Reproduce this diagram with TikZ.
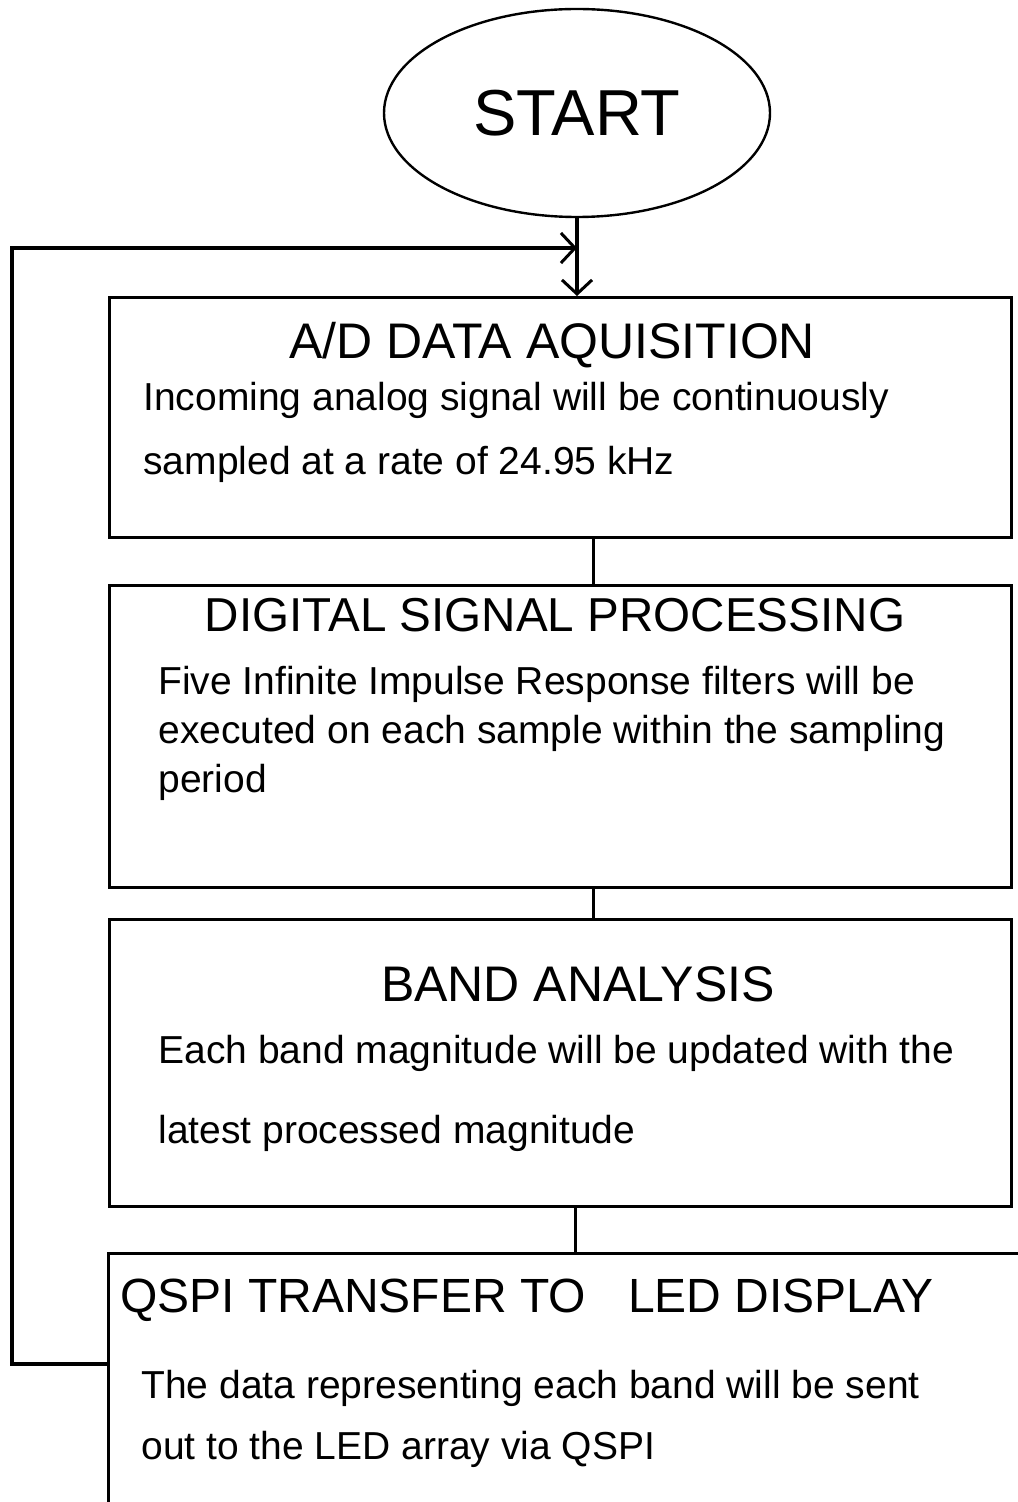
\documentclass[tikz,border=0pt]{standalone}
\usepackage{fontspec}
\setmainfont{Liberation Sans}
\usetikzlibrary{arrows.meta,shapes.geometric,positioning}

\tikzset{
	stage/.style = {draw, line width=1.6pt, anchor=north west, inner sep=0pt},
	heading/.style = {font=\fontsize{25}{30}\selectfont, inner sep=0pt},
	detail/.style = {align=left, anchor=west, inner sep=0pt},
	flow/.style = {line width=1.6pt},
	tip/.style = {-{Straight Barb[length=7pt,width=15pt,line width=1.5pt]}}
}

\begin{document}
\begin{tikzpicture}[x=0.5pt, y=-0.5pt]
	\useasboundingbox (0,0) rectangle (1017,1502);
	\node[draw, ellipse, line width=1.2pt, minimum width=193pt, minimum height=104pt, inner sep=0pt,
		font=\fontsize{32.5}{36}\selectfont] (start) at (577,113) {START};

	\node[stage, minimum width=451pt, minimum height=120pt] (acq) at (108,296) {};
	\node[stage, minimum width=451pt, minimum height=151pt] (dsp) at (108,584) {};
	\node[stage, minimum width=451pt, minimum height=143.5pt] (band) at (108,918) {};
	\node[stage, minimum width=500pt, minimum height=200pt] (qspi) at (107,1252) {};

	\node[heading] (acqtitle) at (552,345) {A/D DATA AQUISITION};
	\node[detail, font=\fontsize{19.5}{32}\selectfont] (acqtext) at (143,432)
		{Incoming analog signal will be continuously\\sampled at a rate of 24.95 kHz};
	\node[heading, font=\fontsize{23.8}{30}\selectfont] (dsptitle) at (555,615) {DIGITAL SIGNAL PROCESSING};
	\node[detail, font=\fontsize{19.5}{24.5}\selectfont] (dsptext) at (158,733)
		{Five Infinite Impulse Response filters will be\\executed on each sample within the sampling\\period};
	\node[heading] (bandtitle) at (578,984) {BAND ANALYSIS};
	\node[detail, font=\fontsize{19.5}{40}\selectfont] (bandtext) at (158,1093)
		{Each band magnitude will be updated with the\\latest processed magnitude};
	\node[heading, font=\fontsize{24}{30}\selectfont] (qspititle) at (527,1300) {QSPI TRANSFER TO\hspace{0.6em} LED DISPLAY};
	\node[detail, font=\fontsize{19.5}{30.5}\selectfont] (qspitext) at (141,1419)
		{The data representing each band will be sent\\out to the LED array via QSPI};

	% connectors
	\draw[flow, tip] (start.south) -- (start.south |- acq.north);
	\draw[flow] ([xshift=16.5pt]acq.south) -- ([xshift=16.5pt]dsp.north);
	\draw[flow] ([xshift=16.5pt]dsp.south) -- ([xshift=16.5pt]band.north);
	\draw[flow] ([xshift=7.5pt]band.south) -- ([xshift=7.5pt]band.south |- qspi.north);

	% loop back to the top
	\coordinate (loopbottom) at (12,1364);
	\coordinate (looptop) at (12,248);
	\coordinate (join) at (start.south |- looptop);
	\draw[flow, tip] ([yshift=-56pt]qspi.north west) -- (loopbottom) -- (looptop) -- (join);
\end{tikzpicture}
\end{document}
